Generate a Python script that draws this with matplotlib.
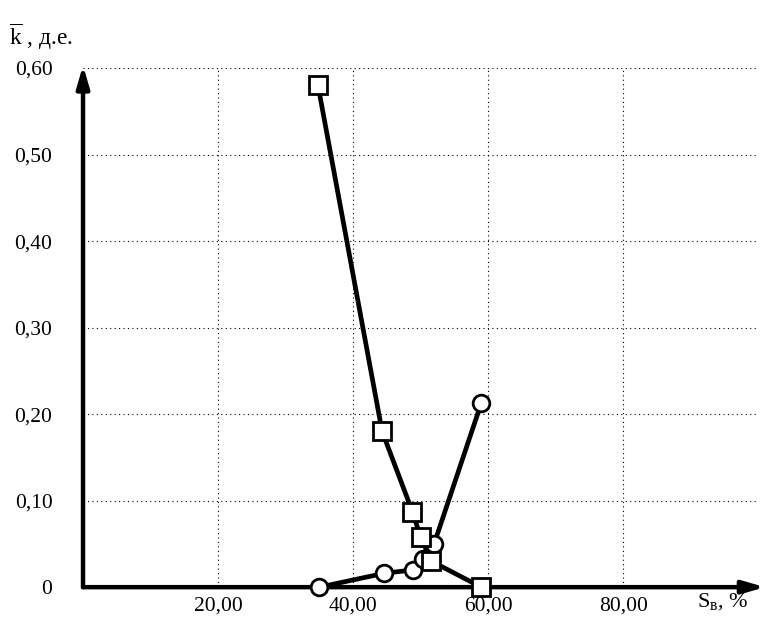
import matplotlib
matplotlib.use("Agg")
import matplotlib.pyplot as plt

plt.rcParams['font.family'] = ['Liberation Serif', 'DejaVu Serif']
plt.rcParams['mathtext.fontset'] = 'custom'
plt.rcParams['mathtext.rm'] = 'Liberation Serif'
plt.rcParams['mathtext.it'] = 'Liberation Serif:italic'

# Data
sq_x = [34.8, 44.3, 48.8, 50.0, 51.6, 59.0]
sq_y = [0.580, 0.180, 0.087, 0.058, 0.030, 0.0]
ci_x = [35.0, 44.6, 48.9, 50.3, 52.0, 59.0]
ci_y = [0.0, 0.016, 0.020, 0.033, 0.050, 0.213]

x_ticks = [20, 40, 60, 80]
x_labels = ["20,00", "40,00", "60,00", "80,00"]
y_ticks = [0, 0.1, 0.2, 0.3, 0.4, 0.5, 0.6]
y_labels = ["0", "0,10", "0,20", "0,30", "0,40", "0,50", "0,60"]

fig = plt.figure(figsize=(7.76, 6.3), dpi=100)
ax = fig.add_axes([0.107, 0.068, 0.870, 0.824])
ax.set_xlim(0, 100)
ax.set_ylim(0, 0.6)

for s in ax.spines.values():
    s.set_visible(False)

# grid
for xv in x_ticks:
    ax.plot([xv, xv], [0, 0.6], linestyle=(0, (1, 3)), color='black', lw=0.8, zorder=1)
for yv in y_ticks[1:]:
    ax.plot([0, 100], [yv, yv], linestyle=(0, (1, 3)), color='black', lw=0.8, zorder=1)

# axes with arrows
ax.annotate('', xy=(101, 0), xytext=(0, 0), xycoords='data',
            arrowprops=dict(arrowstyle='-|>,head_length=1.3,head_width=0.38', lw=3.2, color='black',
                            shrinkA=0, shrinkB=0), annotation_clip=False, zorder=3)
ax.annotate('', xy=(0, 0.603), xytext=(0, 0), xycoords='data',
            arrowprops=dict(arrowstyle='-|>,head_length=1.3,head_width=0.38', lw=3.2, color='black',
                            shrinkA=0, shrinkB=0), annotation_clip=False, zorder=3)

ax.plot(sq_x, sq_y, color='black', lw=3.4, marker='s', markersize=13,
        markerfacecolor='white', markeredgecolor='black', markeredgewidth=2, zorder=5, clip_on=False)
ax.plot(ci_x, ci_y, color='black', lw=3.4, marker='o', markersize=12,
        markerfacecolor='white', markeredgecolor='black', markeredgewidth=2, zorder=4, clip_on=False)

ax.set_xticks(x_ticks)
ax.set_xticklabels(x_labels, fontsize=15.5)
ax.set_yticks(y_ticks)
ax.set_yticklabels(y_labels, fontsize=15.5)
ax.tick_params(axis='both', length=0)
ax.tick_params(axis='x', pad=7)
ax.tick_params(axis='y', pad=22)

fig.text(0.012, 0.929, r"$\overline{\mathrm{k}}$" + " , д.е.", fontsize=17, ha='left', va='baseline')
fig.text(0.898, 0.037, r"$\mathrm{S}_{\mathrm{в}}$, %", fontsize=16, ha='left', va='baseline')

fig.savefig("out.png", dpi=100)
